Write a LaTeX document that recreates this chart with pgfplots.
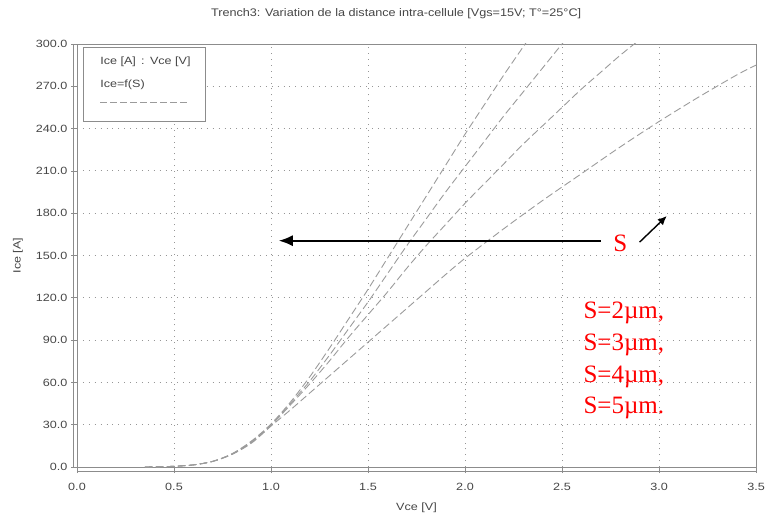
\documentclass[border=0pt]{standalone}
\usepackage{fontspec}
\setmainfont{Liberation Sans}
\newfontfamily\chartfont[FakeStretch=1.2]{Liberation Sans}
\newfontfamily\titlefont[FakeStretch=1.15]{Liberation Sans}
\newfontfamily\serifred{Liberation Serif}
\usepackage{pgfplots}
\pgfplotsset{compat=1.18}
\usetikzlibrary{arrows.meta}
\definecolor{txt}{RGB}{70,70,70}
\definecolor{curve}{RGB}{155,155,155}
\definecolor{frame}{RGB}{140,140,140}
\definecolor{gridc}{RGB}{150,150,150}
\pgfplotsset{ccurve/.style={draw=curve, no markers, line width=0.9pt, dash pattern=on 7.5pt off 3.5pt, smooth}}
\begin{document}
\begin{tikzpicture}[x=1pt,y=1pt]
\useasboundingbox (0,0) rectangle (767,519);
\begin{axis}[
  at={(77pt,52pt)}, anchor=south west,
  scale only axis, width=679pt, height=423pt,
  xmin=0, xmax=3.5, ymin=0, ymax=300,
  xtick={0,0.5,...,3.5}, ytick={0,30,...,300},
  axis line style={frame, line width=0.8pt},
  tick align=outside, major tick length=6pt,
  tick style={frame, line width=0.6pt},
  xtick pos=bottom, ytick pos=left,
  grid=major,
  grid style={gridc, line width=0.9pt, dash pattern=on 0.9pt off 5pt},
  /pgf/number format/.cd, fixed, fixed zerofill, precision=1, assume math mode=true,
  /pgfplots/.cd,
  ticklabel style={font=\chartfont\fontsize{10.5}{12}\selectfont, text=txt},
  xticklabel style={yshift=-7pt},
  yticklabel style={xshift=0pt},
  xlabel={Vce [V]}, ylabel={Ice [A]},
  label style={font=\chartfont\fontsize{10.5}{12}\selectfont, text=txt},
  xlabel style={at={(axis description cs:0.5,0)}, anchor=center, yshift=-41pt},
  ylabel style={at={(axis description cs:-0.087,0.5)}, anchor=center},
  title={Trench3: Variation de la distance intra-cellule [Vgs=15V; T°=25°C]},
  title style={font=\titlefont\fontsize{11}{13}\selectfont, text=txt, at={(axis description cs:0.47,1)}, anchor=center, yshift=24pt},
]
% S = 2 um
\addplot[ccurve] coordinates {(0.35,0)(0.45,0.2)(0.5,0.5)(0.6,1.5)(0.7,4)(0.8,9.5)(0.9,18.5)(1.0,30.5)(1.1,46)(1.2,64)(1.3,84)(1.4,105)(1.5,126)(1.6,148)(1.7,170)(1.8,192)(1.9,214)(2.0,236)(2.1,257)(2.2,278)(2.3,298)(2.35,308)};
% S = 3 um
\addplot[ccurve] coordinates {(0.35,0)(0.45,0.2)(0.5,0.5)(0.6,1.5)(0.7,4)(0.8,9.3)(0.9,18)(1.0,30)(1.1,45)(1.2,61)(1.3,79)(1.4,98)(1.5,117)(1.6,137)(1.7,157)(1.8,176)(1.9,195)(2.0,213)(2.1,231)(2.2,249)(2.3,266)(2.4,283)(2.5,300)(2.55,308)};
% S = 4 um
\addplot[ccurve] coordinates {(0.35,0)(0.45,0.2)(0.5,0.5)(0.6,1.5)(0.7,4)(0.8,9.1)(0.9,17.5)(1.0,29.5)(1.1,44)(1.2,59)(1.3,75)(1.4,92)(1.5,108)(1.6,124)(1.7,141)(1.8,157)(1.9,172)(2.0,187)(2.1,201)(2.2,215)(2.3,229)(2.4,242)(2.5,255)(2.6,268)(2.7,280)(2.8,292)(2.9,303)};
% S = 5 um
\addplot[ccurve] coordinates {(0.35,0)(0.45,0.2)(0.5,0.5)(0.6,1.5)(0.7,4)(0.8,9)(0.9,17)(1.0,29)(1.1,40.5)(1.2,52.5)(1.3,64.5)(1.4,76.5)(1.5,88.5)(1.6,100.5)(1.7,112.5)(1.8,124.5)(1.9,136.5)(2.0,148)(2.2,169)(2.4,189)(2.6,208)(2.8,227)(3.0,245)(3.2,262)(3.4,278)(3.5,285)};
% legend box
\draw[frame, line width=0.8pt, fill=white] (axis description cs:0.009,0.818) rectangle (axis description cs:0.189,0.993);
\node[anchor=west, text=txt, font=\chartfont\fontsize{10.5}{12}\selectfont, inner sep=0] at (axis description cs:0.034,0.958) {Ice [A]\enspace:\enspace Vce [V]};
\node[anchor=west, text=txt, font=\chartfont\fontsize{10.5}{12}\selectfont, inner sep=0] at (axis description cs:0.034,0.904) {Ice=f(S)};
\draw[curve, line width=1pt, dash pattern=on 6.5pt off 3.5pt] (axis description cs:0.034,0.861) -- (axis description cs:0.163,0.861);
% annotations
\draw[black, line width=1.8pt, -{Latex[length=14pt,width=11pt]}] (axis cs:2.70,160.5) -- (axis cs:1.04,160.5);
\node[text=red, font=\serifred\fontsize{25}{30}\selectfont, inner sep=0] at (axis cs:2.80,158.5) {S};
\draw[black, line width=1.4pt, -{Latex[length=9pt,width=8pt]}] (axis cs:2.90,159.5) -- (axis cs:3.04,178);
\node[text=red, font=\serifred\fontsize{25}{31.7}\selectfont, anchor=north west, align=left, inner sep=0] at (axis cs:2.61,117) {S=2µm,\\S=3µm,\\S=4µm,\\S=5µm.};
\end{axis}
\draw[frame, line width=0.8pt] (73,52) -- (73,475);
\draw[frame, line width=0.8pt] (77,47.5) -- (756,47.5);
\end{tikzpicture}
\end{document}
